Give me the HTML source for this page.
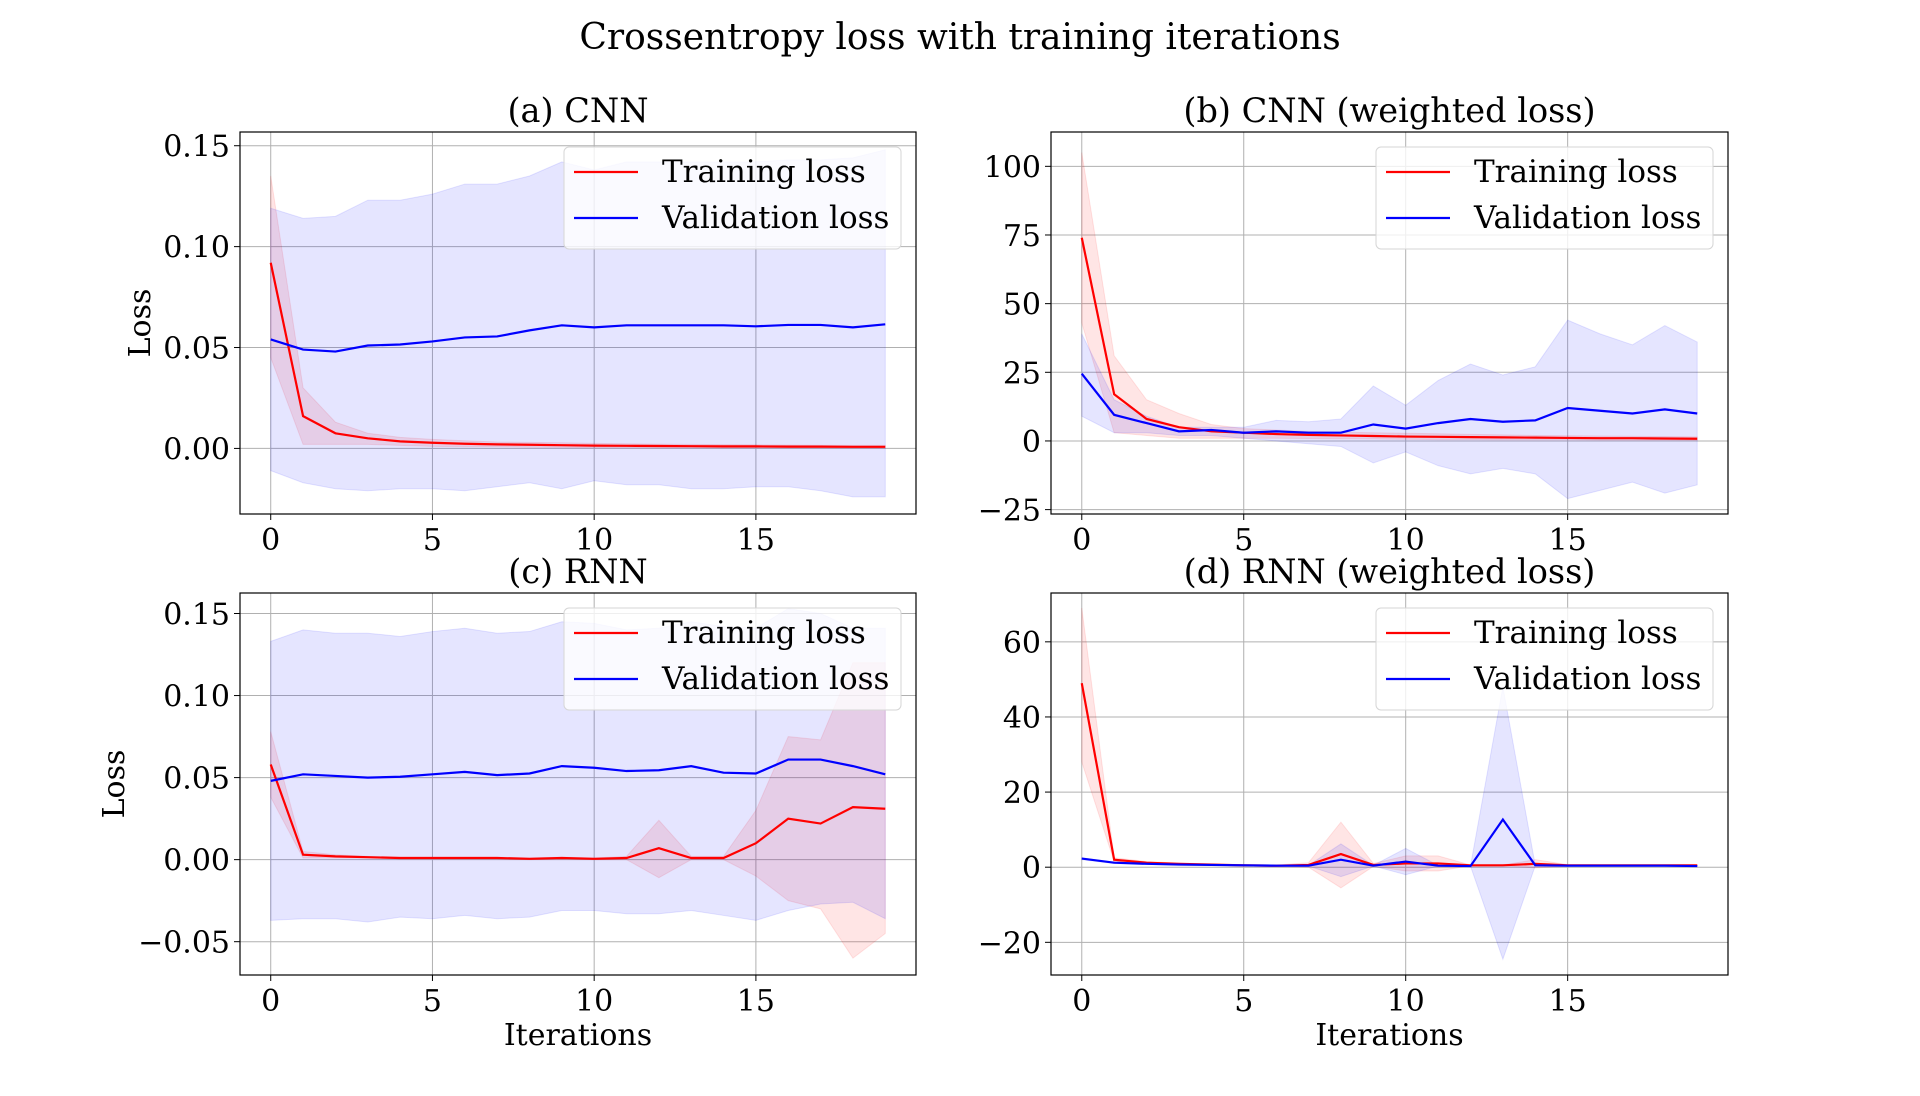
<!DOCTYPE html>
<html><head><meta charset="utf-8"><style>
html,body{margin:0;padding:0;background:#fff;}
svg{display:block;font-family:"DejaVu Serif","Liberation Serif",serif;}
</style></head><body>
<svg id="fig" width="1920" height="1096" xmlns="http://www.w3.org/2000/svg">
<text x="960" y="49" font-size="36" text-anchor="middle">Crossentropy loss with training iterations</text>
</svg>
<script>
const iterations = [0,1,2,3,4,5,6,7,8,9,10,11,12,13,14,15,16,17,18,19];
const xTicks = [0,5,10,15];
// (a) CNN
const aTrain = [0.092,0.016,0.0075,0.005,0.0035,0.0028,0.0023,0.002,0.0018,0.0016,0.0014,0.0013,0.0012,0.0011,0.001,0.001,0.0009,0.0009,0.0008,0.0008];
const aTrainHi = [0.135,0.03,0.013,0.0075,0.0055,0.0045,0.0038,0.0032,0.003,0.0028,0.0025,0.0023,0.0021,0.002,0.0019,0.0018,0.0017,0.0016,0.0015,0.0015];
const aTrainLo = [0.045,0.002,0.002,0.002,0.0015,0.001,0.0008,0.0008,0.0006,0.0005,0.0004,0.0004,0.0003,0.0003,0.0002,0.0002,0.0002,0.0002,0.0001,0.0001];
const aVal = [0.054,0.049,0.048,0.051,0.0515,0.053,0.055,0.0555,0.0585,0.061,0.060,0.061,0.061,0.061,0.061,0.0605,0.0612,0.0612,0.060,0.0615];
const aValHi = [0.119,0.114,0.115,0.123,0.123,0.126,0.131,0.131,0.135,0.142,0.138,0.142,0.142,0.142,0.142,0.142,0.143,0.143,0.144,0.148];
const aValLo = [-0.011,-0.017,-0.020,-0.021,-0.020,-0.020,-0.021,-0.019,-0.017,-0.020,-0.016,-0.018,-0.018,-0.020,-0.020,-0.019,-0.019,-0.021,-0.024,-0.024];
const aYTicks = [0.00,0.05,0.10,0.15];
// (b) CNN weighted
const bTrain = [74,17,8,5,3.5,3,2.5,2.2,2,1.8,1.6,1.5,1.4,1.3,1.2,1.1,1.0,1.0,0.9,0.8];
const bTrainHi = [105,31,15,10,6,4.5,4,3.5,3.2,3,2.8,2.6,2.4,2.2,2,1.9,1.8,1.7,1.6,1.5];
const bTrainLo = [43,3,2,1,1,1,1,0.9,0.8,0.7,0.6,0.5,0.5,0.4,0.4,0.4,0.3,0.3,0.3,0.2];
const bVal = [24.5,9.5,6.5,3.5,4,3,3.5,3,3,6,4.5,6.5,8,7,7.5,12,11,10,11.5,10];
const bValHi = [39,15,9,5,5,5,7.5,7,8,20,13,22,28,24,27,44,39,35,42,36];
const bValLo = [9,3,3,2,2,1,0,-1,-2,-8,-4,-9,-12,-10,-12,-21,-18,-15,-19,-16];
const bYTicks = [-25,0,25,50,75,100];
// (c) RNN
const cTrain = [0.058,0.003,0.002,0.0015,0.001,0.001,0.001,0.001,0.0005,0.001,0.0005,0.001,0.007,0.001,0.001,0.01,0.025,0.022,0.032,0.031];
const cTrainHi = [0.078,0.005,0.003,0.002,0.0015,0.0015,0.0015,0.0015,0.001,0.0015,0.001,0.002,0.024,0.002,0.002,0.03,0.075,0.073,0.12,0.12];
const cTrainLo = [0.038,0.001,0.001,0.001,0.0005,0.0005,0.0005,0.0005,0,0.0005,0,0,-0.011,0,0,-0.01,-0.025,-0.03,-0.06,-0.045];
const cVal = [0.048,0.052,0.051,0.050,0.0505,0.052,0.0535,0.0515,0.0525,0.057,0.056,0.054,0.0545,0.057,0.053,0.0525,0.061,0.061,0.057,0.052];
const cValHi = [0.133,0.140,0.138,0.138,0.136,0.139,0.141,0.138,0.139,0.145,0.144,0.140,0.141,0.145,0.142,0.141,0.153,0.150,0.141,0.141];
const cValLo = [-0.037,-0.036,-0.036,-0.038,-0.035,-0.036,-0.034,-0.036,-0.035,-0.031,-0.031,-0.033,-0.033,-0.031,-0.034,-0.037,-0.031,-0.027,-0.026,-0.036];
const cYTicks = [-0.05,0.00,0.05,0.10,0.15];
// (d) RNN weighted
const dTrain = [49,2,1.2,0.9,0.7,0.5,0.4,0.6,3.5,0.6,1,1,0.5,0.5,0.9,0.5,0.5,0.5,0.5,0.5];
const dTrainHi = [69,2.5,1.5,1.1,0.9,0.7,0.6,1.2,12,1,3,3,0.6,0.6,2,0.7,0.6,0.6,0.6,0.6];
const dTrainLo = [28,1.5,0.9,0.7,0.5,0.3,0.2,0,-5.5,0.2,-1,-1,0.4,0.4,-0.2,0.3,0.4,0.4,0.4,0.4];
const dVal = [2.3,1.2,0.9,0.7,0.6,0.5,0.4,0.4,2,0.4,1.5,0.4,0.3,12.7,0.5,0.4,0.4,0.4,0.4,0.3];
const dValHi = [2.5,1.3,1,0.8,0.7,0.6,0.5,0.5,6.2,0.5,5,0.5,0.3,48,0.5,0.5,0.5,0.5,0.5,0.4];
const dValLo = [2,1,0.8,0.6,0.5,0.4,0.3,0.3,-2.5,0.3,-2,0.3,0.3,-24.5,0.4,0.3,0.3,0.3,0.3,0.2];
const dYTicks = [-20,0,20,40,60];

const NS="http://www.w3.org/2000/svg";
const svg=document.getElementById('fig');
function mk(tag,attrs,parent){const e=document.createElementNS(NS,tag);for(const k in attrs)e.setAttribute(k,attrs[k]);(parent||svg).appendChild(e);return e;}

function panel(cfg){
  const {id,L,R,T,B,ymin,ymax,yTicks,fmt,title,train,trainHi,trainLo,val,valHi,valLo,ylabel,ylabelX,xlabel}=cfg;
  const g=mk('g',{});
  
  
  const xs=v=>L+(v+0.95)/20.9*(R-L);
  const ys=v=>B-(v-ymin)/(ymax-ymin)*(B-T);
  const clipId='clip-'+id;
  const cp=mk('clipPath',{id:clipId},g);mk('rect',{x:L,y:T,width:R-L,height:B-T},cp);
  xTicks.forEach(t=>{const l=mk('line',{x1:xs(t),x2:xs(t),y1:T,y2:B,stroke:'#b0b0b0','stroke-width':1},g);
    });
  yTicks.forEach(t=>{const l=mk('line',{x1:L,x2:R,y1:ys(t),y2:ys(t),stroke:'#b0b0b0','stroke-width':1},g);
    });
  const cg=mk('g',{'clip-path':'url(#'+clipId+')'},g);
  function band(hi,lo,color,name){
    let d='M'+iterations.map((x,i)=>xs(x)+','+ys(hi[i])).join('L');
    d+='L'+iterations.slice().reverse().map(x=>xs(x)+','+ys(lo[x])).join('L')+'Z';
    const p=mk('path',{d:d,fill:color,'fill-opacity':0.1,stroke:color,'stroke-opacity':0.1},cg);
    
  }
  function line(arr,color,name){
    const p=mk('polyline',{points:iterations.map((x,i)=>xs(x)+','+ys(arr[i])).join(' '),fill:'none',stroke:color,'stroke-width':2.2},cg);
    
  }
  band(trainHi,trainLo,'#ff0000','training-band');
  band(valHi,valLo,'#0000ff','validation-band');
  line(train,'#ff0000','training-loss-line');
  line(val,'#0000ff','validation-loss-line');
  const fr=mk('rect',{x:L,y:T,width:R-L,height:B-T,fill:'none',stroke:'#000','stroke-width':1.2},g);
  
  xTicks.forEach(t=>{mk('line',{x1:xs(t),x2:xs(t),y1:B,y2:B+6,stroke:'#000'},g);
    const tx=mk('text',{x:xs(t),y:B+36,'font-size':30,'text-anchor':'middle'},g);tx.textContent=t;
    });
  yTicks.forEach(t=>{mk('line',{x1:L-6,x2:L,y1:ys(t),y2:ys(t),stroke:'#000'},g);
    const tx=mk('text',{x:L-10,y:ys(t)+11,'font-size':30,'text-anchor':'end'},g);tx.textContent=fmt(t);
    });
  const tt=mk('text',{x:(L+R)/2,y:T-10,'font-size':33.5,'text-anchor':'middle'},g);tt.textContent=title;
  
  if(ylabel){const yl=mk('text',{x:0,y:0,'font-size':30,'text-anchor':'middle',transform:'translate('+ylabelX+','+((T+B)/2)+') rotate(-90)'},g);yl.textContent='Loss';
    }
  if(xlabel){const xl=mk('text',{x:(L+R)/2,y:B+70,'font-size':30,'text-anchor':'middle'},g);xl.textContent='Iterations';
    }
  const lx=R-15-337, ly=T+15;
  const lg=mk('g',{},g);
  
  mk('rect',{x:lx,y:ly,width:337,height:102,rx:5,fill:'#fff','fill-opacity':0.8,stroke:'#d6d6d6'},lg);
  [['Training loss','#ff0000',35],['Validation loss','#0000ff',81]].forEach(([lab,c,dy])=>{
    const e=mk('g',{},lg);
    mk('line',{x1:lx+10,x2:lx+74,y1:ly+dy-10,y2:ly+dy-10,stroke:c,'stroke-width':2.2},e);
    const t=mk('text',{x:lx+98,y:ly+dy,'font-size':31},e);t.textContent=lab;
  });
}
const f2=v=>(v<0?'\u2212':'')+Math.abs(v).toFixed(2);
const f0=v=>(v<0?'\u2212':'')+Math.abs(v);
panel({id:'a',L:240,R:916,T:132,B:514,ymin:-0.0325,ymax:0.1568,yTicks:aYTicks,fmt:f2,title:'(a) CNN',train:aTrain,trainHi:aTrainHi,trainLo:aTrainLo,val:aVal,valHi:aValHi,valLo:aValLo,ylabel:true,ylabelX:150,xlabel:false});
panel({id:'b',L:1051,R:1728,T:132,B:514,ymin:-26.6,ymax:112.5,yTicks:bYTicks,fmt:f0,title:'(b) CNN (weighted loss)',train:bTrain,trainHi:bTrainHi,trainLo:bTrainLo,val:bVal,valHi:bValHi,valLo:bValLo,ylabel:false,xlabel:false});
panel({id:'c',L:240,R:916,T:593,B:975,ymin:-0.0703,ymax:0.1625,yTicks:cYTicks,fmt:f2,title:'(c) RNN',train:cTrain,trainHi:cTrainHi,trainLo:cTrainLo,val:cVal,valHi:cValHi,valLo:cValLo,ylabel:true,ylabelX:124,xlabel:true});
panel({id:'d',L:1051,R:1728,T:593,B:975,ymin:-28.7,ymax:73,yTicks:dYTicks,fmt:f0,title:'(d) RNN (weighted loss)',train:dTrain,trainHi:dTrainHi,trainLo:dTrainLo,val:dVal,valHi:dValHi,valLo:dValLo,ylabel:false,xlabel:true});
</script>
</body></html>
